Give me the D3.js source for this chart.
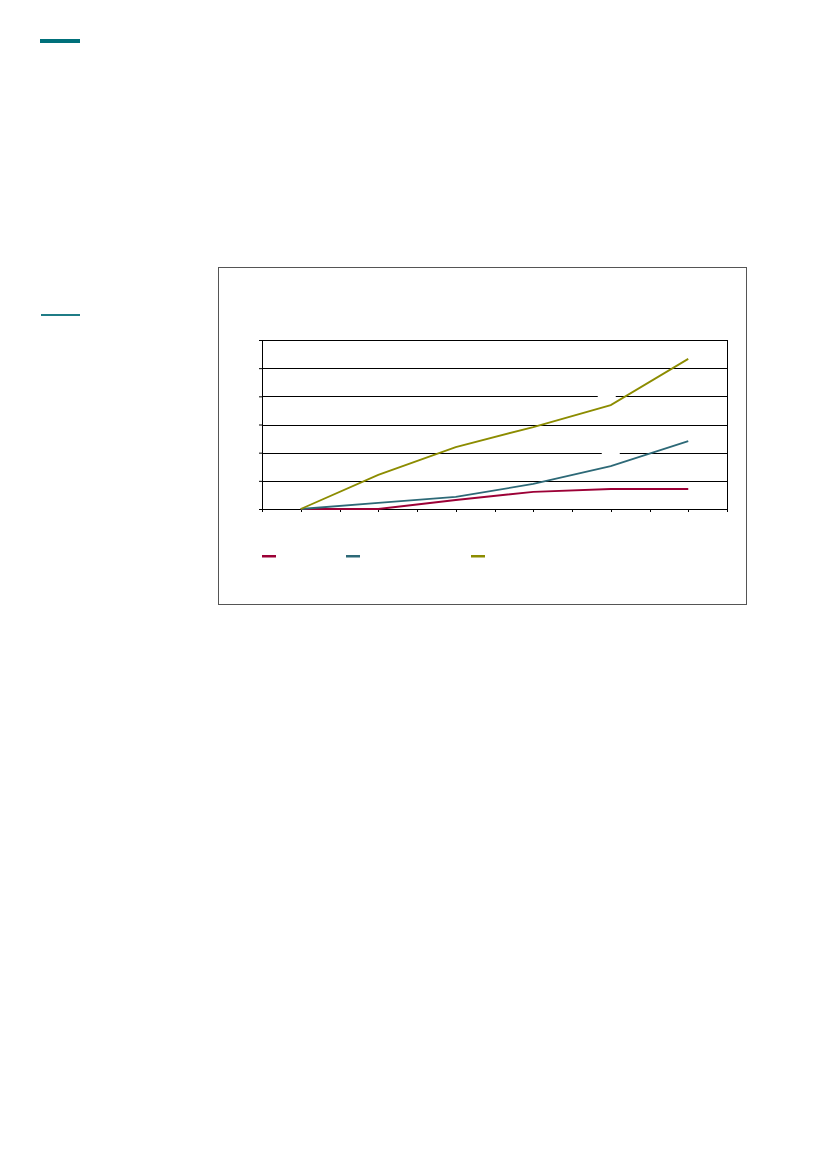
<!DOCTYPE html>
<html>
<head>
<meta charset="utf-8">
<script src="https://cdn.jsdelivr.net/npm/d3@7"></script>
<style>
  body { margin: 0; background: #fff; }
  svg { display: block; }
</style>
</head>
<body>
<div id="page"></div>
<script>
// Data (no labels are printed in the original)
var periods = [1, 2, 3, 4, 5, 6];
var seriesRed = [0, 0, 3.2, 6.1, 7.1, 7.1];
var seriesBlue = [0, 2.2, 4.3, 8.9, 15.2, 24.1];
var seriesGreen = [0, 12.1, 22.0, 29.1, 36.9, 53.3];
var yTicks = [0, 10, 20, 30, 40, 50, 60];

// Page size
var svgWidth = 827;
var svgHeight = 1169;

// Outer chart frame and plot area
var frame = { left: 218, top: 267, right: 746, bottom: 604 };
var margin = { top: 340, left: 262, right: 727, bottom: 509 };
var chartWidth = margin.right - margin.left;
var chartHeight = margin.bottom - margin.top;

var svg = d3.select("#page")
  .append("svg")
  .attr("width", svgWidth)
  .attr("height", svgHeight);

// decorative rules at the left of the page
svg.append("rect")
  .attr("x", 40).attr("y", 39)
  .attr("width", 40).attr("height", 4)
  .attr("fill", "#00707a");

svg.append("rect")
  .attr("x", 41).attr("y", 314)
  .attr("width", 39).attr("height", 2)
  .attr("fill", "#1f7c86");

// chart frame
svg.append("rect")
  .attr("x", frame.left + 0.5)
  .attr("y", frame.top + 0.5)
  .attr("width", frame.right - frame.left)
  .attr("height", frame.bottom - frame.top)
  .attr("fill", "#fff")
  .attr("stroke", "#555")
  .attr("stroke-width", 1);

var chartGroup = svg.append("g")
  .attr("transform", `translate(${margin.left}, ${margin.top})`);

// scales
var xBand = d3.scaleBand()
  .domain(periods)
  .range([0, chartWidth])
  .paddingInner(0)
  .paddingOuter(0);

var xPoint = d => xBand(d) + xBand.bandwidth() / 2;

var yLinearScale = d3.scaleLinear()
  .domain([0, 60])
  .range([chartHeight, 0]);

// horizontal gridlines
chartGroup.selectAll("line.grid")
  .data(yTicks)
  .enter()
  .append("line")
  .attr("class", "grid")
  .attr("x1", 0)
  .attr("x2", chartWidth)
  .attr("y1", d => Math.round(yLinearScale(d)) + 0.5)
  .attr("y2", d => Math.round(yLinearScale(d)) + 0.5)
  .attr("stroke", "#000")
  .attr("stroke-width", 1);

// right border of the plot area
chartGroup.append("line")
  .attr("x1", chartWidth + 0.5).attr("x2", chartWidth + 0.5)
  .attr("y1", 0).attr("y2", chartHeight + 3)
  .attr("stroke", "#000");

// left axis (no labels)
var leftAxis = d3.axisLeft(yLinearScale)
  .tickValues(yTicks)
  .tickSize(3)
  .tickFormat("");

chartGroup.append("g")
  .call(leftAxis)
  .call(g => g.select(".domain").remove())
  .call(g => g.selectAll(".tick line").attr("stroke", "#000"));

chartGroup.append("line")
  .attr("x1", 0.5).attr("x2", 0.5)
  .attr("y1", 0).attr("y2", chartHeight + 3)
  .attr("stroke", "#000");

// bottom axis ticks: band edges and band centres
var xTickPos = [];
periods.forEach(function(p) {
  xTickPos.push(xBand(p));
  xTickPos.push(xPoint(p));
});
xTickPos.push(chartWidth);

chartGroup.selectAll("line.xtick")
  .data(xTickPos)
  .enter()
  .append("line")
  .attr("class", "xtick")
  .attr("x1", d => Math.round(d) + 0.5)
  .attr("x2", d => Math.round(d) + 0.5)
  .attr("y1", chartHeight)
  .attr("y2", chartHeight + 3)
  .attr("stroke", "#000");

// label backgrounds that break the gridlines near the last-but-one point
var labelBoxes = [
  { values: seriesGreen, idx: 4, dx: -13, dy: -12 },
  { values: seriesBlue, idx: 4, dx: -9, dy: -17 }
];
chartGroup.selectAll("rect.lbl")
  .data(labelBoxes)
  .enter()
  .append("rect")
  .attr("class", "lbl")
  .attr("x", d => xPoint(periods[d.idx]) + d.dx)
  .attr("y", d => yLinearScale(d.values[d.idx]) + d.dy)
  .attr("width", 18)
  .attr("height", 6)
  .attr("fill", "#fff");

// lines
var seriesList = [
  { values: seriesRed, color: "#9c0036" },
  { values: seriesBlue, color: "#2d6977" },
  { values: seriesGreen, color: "#8c8c00" }
];

var drawLine = d3.line()
  .x((d, i) => xPoint(periods[i]))
  .y(d => yLinearScale(d));

chartGroup.selectAll("path.series")
  .data(seriesList)
  .enter()
  .append("path")
  .attr("class", "series")
  .attr("d", d => drawLine(d.values))
  .attr("fill", "none")
  .attr("stroke", d => d.color)
  .attr("stroke-width", 1.8);

// legend (keys only, no text in the original)
var legendOffsets = [0, 84, 209];
var legend = svg.append("g")
  .attr("transform", `translate(${margin.left}, 555)`);

legend.selectAll("rect")
  .data(seriesList)
  .enter()
  .append("rect")
  .attr("x", (d, i) => legendOffsets[i])
  .attr("y", 0)
  .attr("width", 14)
  .attr("height", 2.5)
  .attr("fill", d => d.color);
</script>
</body>
</html>
